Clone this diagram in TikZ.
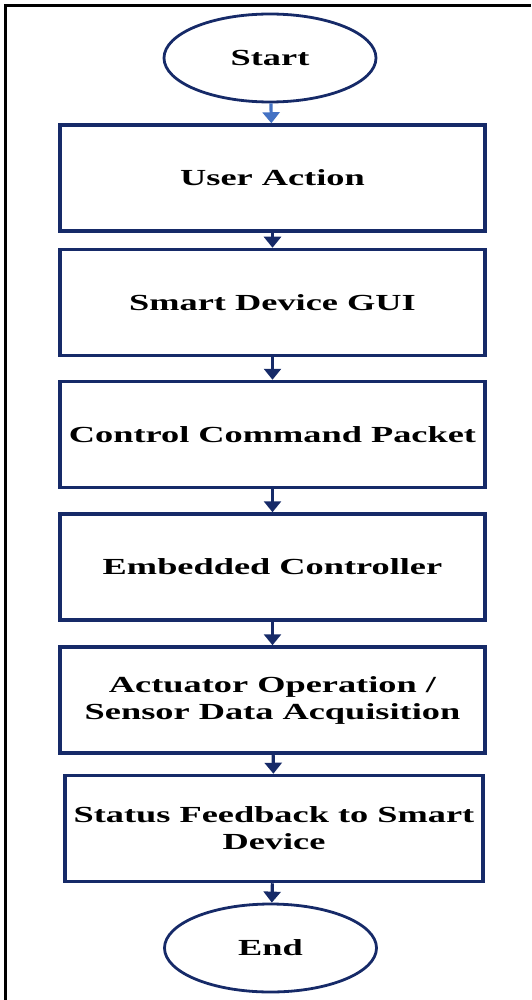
\documentclass[tikz,border=0pt]{standalone}
\usepackage{fontspec}
\setmainfont{Liberation Serif}[FakeStretch=1.58]
\usetikzlibrary{arrows.meta, positioning, shapes.geometric}

\definecolor{navyline}{RGB}{22,42,104}
\definecolor{lightarrow}{RGB}{68,114,196}

\tikzset{
    processbox/.style={draw=navyline, line width=3.5pt, rectangle, minimum width=425pt, minimum height=106pt, align=center, font=\fontsize{23}{27}\selectfont\bfseries},
    terminal/.style={draw=navyline, line width=2.8pt, ellipse, minimum width=212pt, minimum height=88pt, font=\fontsize{23}{27}\selectfont\bfseries},
    flowarrow/.style={draw=navyline, line width=3.2pt, -{Triangle[width=17pt,length=11pt]}}
}

\begin{document}
\begin{tikzpicture}[x=1pt, y=-1pt]
    % Fix the page to the reference size
    \useasboundingbox (0,0) rectangle (531,1000);

    % Outer frame (only left and top edges show)
    \draw[line width=3.5pt] (5.5,1000) -- (5.5,5.5) -- (531,5.5);

    % Terminals and process steps
    \node[terminal] (start) at (270,58) {Start};
    \node[processbox] (useraction) at (272.5,178) {User Action};
    \node[processbox] (gui) at (272.5,302.5) {Smart Device GUI};
    \node[processbox] (packet) at (272.5,434.5) {Control Command Packet};
    \node[processbox] (controller) at (272.5,567) {Embedded Controller};
    \node[processbox] (actuator) at (272.5,700) {Actuator Operation /\\Sensor Data Acquisition};
    \node[processbox, minimum width=418pt] (feedback) at (274,828.5) {Status Feedback to Smart\\Device};
    \node[terminal] (end) at (270.5,948) {End};

    % Connectors
    \draw[flowarrow, draw=lightarrow, -{Triangle[width=17pt,length=11pt,fill=lightarrow]}] (start) -- (useraction);
    \draw[flowarrow] (useraction) -- (gui);
    \draw[flowarrow] (gui) -- (packet);
    \draw[flowarrow] (packet) -- (controller);
    \draw[flowarrow] (controller) -- (actuator);
    \draw[flowarrow] (actuator) -- (feedback);
    \draw[flowarrow] (feedback) -- (end);
\end{tikzpicture}
\end{document}
